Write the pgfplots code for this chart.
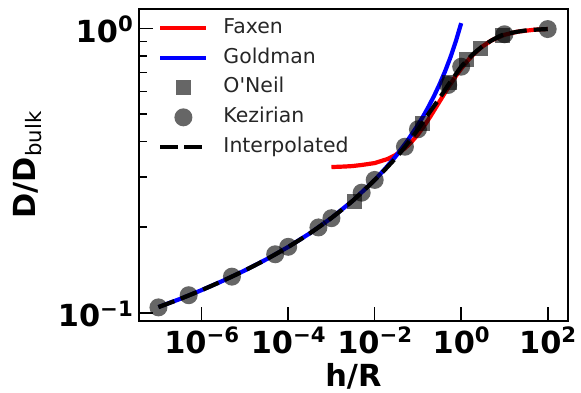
\documentclass[border=0pt]{standalone}
\usepackage{fontspec}
\setmainfont{DejaVu Sans}
\newfontfamily\legfont{DejaVu Sans}
\usepackage{pgfplots}
\pgfplotsset{compat=1.18}
\newcommand\tl[1]{\fontsize{30.5}{31}\selectfont\bfseries 10\raisebox{10.5bp}{\fontsize{21.3}{22}\selectfont\bfseries #1}}
\begin{document}
\begin{tikzpicture}
\begin{axis}[
  xmode=log, ymode=log,
  scale only axis, width=428.7bp, height=312bp,
  xmin=3.55e-8, xmax=290,
  ymin=0.0935, ymax=1.1693,
  axis line style={line width=1.8bp},
  tick align=inside, tick pos=left,
  major tick length=14bp, minor tick length=8bp,
  every tick/.style={black, line width=1.6bp},
  xtick={1e-6,1e-4,1e-2,1,1e2},
  xticklabels={\tl{−6},\tl{−4},\tl{−2},\tl{0},\tl{2}},
  xminorticks=false,
  ytick={0.1,1},
  yticklabels={\tl{−1},\tl{0}},
  minor ytick={0.2,0.3,0.4,0.5,0.6,0.7,0.8,0.9},
  xticklabel style={anchor=base, inner sep=0pt, yshift=-32bp},
  yticklabel style={anchor=base east, inner sep=0pt, xshift=-6bp, yshift=-14bp},
  xlabel={\fontsize{30.5}{31}\selectfont\bfseries h/R},
  ylabel={\fontsize{30.5}{31}\selectfont\bfseries D/D\raisebox{-6bp}{\fontsize{21.3}{22}\selectfont\mdseries bulk}},
  every axis x label/.style={at={(axis description cs:0.5,0)}, anchor=base, yshift=-65.5bp},
  every axis y label/.style={at={(axis description cs:0,0.5)}, rotate=90, anchor=center, yshift=111bp},
  legend image code/.code={\draw[mark repeat=2,mark phase=2,#1] plot coordinates {(0bp,0bp) (23bp,0bp) (46bp,0bp)};},
  legend cell align=left,
  legend style={draw=none, fill=none, inner sep=0pt, outer sep=0pt,
    at={(axis description cs:0,1)}, anchor=north west, xshift=19.3bp, yshift=-7.5bp,
    font=\legfont\fontsize{20.5}{21}\selectfont, text=black!85,
    row sep=6.2bp, column sep=13bp,
    nodes={inner sep=2bp, text height=15bp, text depth=4.5bp}},
]
% Faxen
\addplot[red, line width=4.2bp] coordinates {
(0.001,0.3252) (0.002,0.3266) (0.003,0.3278) (0.005,0.3307) (0.01,0.3359)
(0.02,0.3473) (0.03,0.3582) (0.05,0.3787) (0.07,0.3977) (0.1,0.4236)
(0.15,0.4615) (0.2,0.4936) (0.3,0.5458) (0.5,0.6191) (0.7,0.6691)
(1,0.7214) (1.5,0.7779) (2,0.8147) (3,0.8606) (5,0.9067) (10,0.9489)
(20,0.9732) (50,0.9890) (100,0.9944)};
\addlegendentry{Faxen}
% Goldman
\addplot[blue, line width=4.2bp] coordinates {
(1e-7,0.1047) (3.162e-7,0.1118) (1e-6,0.1201) (3.162e-6,0.1297) (1e-5,0.1409)
(3.162e-5,0.1542) (1e-4,0.1703) (3.162e-4,0.1902) (1e-3,0.2154) (3.162e-3,0.2482)
(1e-2,0.2928) (1.778e-2,0.3218) (3.162e-2,0.3570) (5.623e-2,0.4010) (0.1,0.4573)
(0.1334,0.4918) (0.1778,0.5320) (0.2371,0.5793) (0.3162,0.6358) (0.4217,0.7046)
(0.5623,0.7900) (0.75,0.8990) (1,1.0430)};
\addlegendentry{Goldman}
% O'Neil
\addplot[only marks, color=black!60, mark=square*, mark size=7.5bp,
  mark options={draw opacity=0, fill=black, fill opacity=0.6}] coordinates {
(0.0035,0.2455) (0.1276,0.461) (0.543,0.647) (1.352,0.775) (2.762,0.848) (9.068,0.947)};
\addlegendentry{O'Neil}
% Kezirian
\addplot[only marks, color=black!60, mark=*, mark size=9bp,
  mark options={draw opacity=0, fill=black, fill opacity=0.6}] coordinates {
(1e-7,0.1044) (5e-7,0.1152) (5e-6,0.1339) (5e-5,0.1605) (1e-4,0.1705)
(5e-4,0.1995) (1e-3,0.2150) (5e-3,0.2643) (1e-2,0.2930) (5e-2,0.3834)
(0.1,0.4415) (0.5,0.632) (1,0.733) (10,0.953) (100,0.994)};
\addlegendentry{Kezirian}
% Interpolated
\addplot[black, line width=4.2bp, dash pattern=on 17bp off 7bp, smooth] coordinates {
(1e-7,0.1046) (3.162e-7,0.1118) (1e-6,0.1201) (3.162e-6,0.1297) (1e-5,0.1409)
(3.162e-5,0.1542) (1e-4,0.1703) (3.162e-4,0.1902) (1e-3,0.2154) (3.162e-3,0.2482)
(1e-2,0.2928) (1.778e-2,0.320) (3.162e-2,0.352) (5e-2,0.383) (0.1,0.441)
(0.1778,0.502) (0.3162,0.568) (0.5,0.632) (0.75,0.689) (1,0.733)
(1.778,0.805) (3.162,0.866) (5.623,0.915) (10,0.952) (31.62,0.983) (100,0.994)};
\addlegendentry{Interpolated}
\end{axis}
\pgfresetboundingbox
\path[use as bounding box] (current axis.south west) ++(-139bp,-72bp) rectangle ([shift={(13.3bp,9bp)}]current axis.north east);
\end{tikzpicture}
\end{document}
